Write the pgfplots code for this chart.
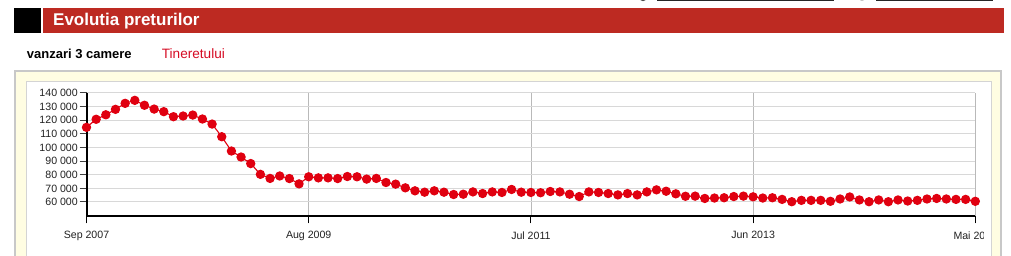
\documentclass[border=0pt]{standalone}
\usepackage{pgfplots}
\pgfplotsset{compat=1.18}
\usepackage{fontspec}
\setmainfont{Liberation Sans}

\definecolor{barred}{RGB}{189,42,34}
\definecolor{linkred}{RGB}{214,12,36}
\definecolor{panelbg}{RGB}{255,253,226}
\definecolor{panelborder}{RGB}{200,200,200}
\definecolor{innerborder}{RGB}{212,212,212}
\definecolor{hgrid}{RGB}{216,216,216}
\definecolor{vgrid}{RGB}{185,185,185}
\definecolor{serie}{RGB}{224,0,16}
\definecolor{ticktext}{RGB}{34,34,34}

% monthly average price, Sep 2007 (0) .. May 2015 (92)
\pgfplotstableread{
idx price
0 114800
1 120700
2 124000
3 128000
4 132400
5 134600
6 131000
7 128200
8 126300
9 122600
10 123100
11 123800
12 120900
13 117200
14 107900
15 97400
16 93000
17 88200
18 80300
19 77300
20 79100
21 77200
22 73300
23 78500
24 77700
25 77700
26 77200
27 78700
28 78500
29 76800
30 77300
31 74300
32 73100
33 70400
34 68200
35 67200
36 68200
37 67200
38 65500
39 65700
40 67400
41 66200
42 67400
43 67000
44 69200
45 67200
46 67000
47 66800
48 67700
49 67400
50 65700
51 64000
52 67400
53 67000
54 66200
55 65200
56 66200
57 65200
58 67400
59 68900
60 67900
61 66000
62 64200
63 64300
64 62600
65 62900
66 63100
67 64000
68 64300
69 63800
70 62900
71 63100
72 61900
73 60200
74 61200
75 61200
76 61200
77 60500
78 62200
79 63700
80 61500
81 60200
82 61500
83 60200
84 61500
85 60700
86 61200
87 62200
88 62600
89 62200
90 61900
91 61900
92 60500
}\pricedata

\begin{document}
\begin{tikzpicture}[x=1pt,y=1pt]
\useasboundingbox (0,0) rectangle (1011,256);
\clip (0,0) rectangle (1011,256);
\fill[white] (0,0) rectangle (1011,256);

% links at the top edge
\draw[black!85, line width=0.8pt] (657,255.4) -- (834,255.4);
\draw[black!85, line width=0.8pt] (876,255.4) -- (993,255.4);
\fill[black!70] (643,258) circle (3.2);
\fill[black!25] (862,257.5) circle (2.5);

% header
\fill[black] (14,223.3) rectangle (41,248.3);
\fill[barred] (42.7,223.3) rectangle (1004,248.3);
\node[anchor=base west, inner sep=0pt, text=white, font=\fontsize{17}{20}\selectfont\bfseries] at (53,230) {Evolutia preturilor};

% sub header
\node[anchor=base west, inner sep=0pt, font=\fontsize{13}{15}\selectfont\bfseries] at (26.7,197.7) {vanzari 3 camere};
\node[anchor=base west, inner sep=0pt, text=linkred, font=\fontsize{13.6}{15}\selectfont] at (161.7,197.7) {Tineretului};

% panel
\filldraw[fill=panelbg, draw=panelborder, line width=2pt] (15,-10) rectangle (1001,185);
\filldraw[fill=white, draw=innerborder, line width=1pt] (26.5,-10) rectangle (991.5,174);

\begin{scope}
\clip (0,0) rectangle (983.5,256);
\begin{axis}[
  at={(86.5pt,39.7pt)}, anchor=south west,
  scale only axis,
  width=888.8pt, height=123.3pt,
  xmin=0, xmax=92,
  ymin=49500, ymax=140000,
  scaled y ticks=false,
  axis lines=left,
  axis line style={-, black, line width=2pt},
  xtick={0,23,46,69},
  xticklabels={Sep 2007, Aug 2009, Jul 2011, Jun 2013},
  extra x ticks={92},
  extra x tick labels={Mai 2015},
  extra x tick style={grid style={hgrid, line width=1pt}},
  ytick={60000,70000,80000,90000,100000,110000,120000,130000,140000},
  yticklabels={60 000,70 000,80 000,90 000,100 000,110 000,120 000,130 000,140 000},
  grid=major,
  x grid style={vgrid, line width=0.8pt},
  y grid style={hgrid, line width=1pt},
  tick align=outside,
  x tick style={black, line width=1pt},
  y tick style={black!75, line width=1pt},
  major tick length=7pt,
  tick label style={font=\fontsize{10.6}{12}\selectfont, text=ticktext, inner sep=0pt},
  xticklabel style={anchor=north, yshift=-8pt},
  yticklabel style={anchor=east, xshift=-1.5pt},
  clip=false,
]
\addplot[serie, line width=1.1pt, mark=*, mark size=4.1pt, mark options={fill=serie, draw=none}]
  table[x=idx, y=price] {\pricedata};
\end{axis}
\end{scope}
\end{tikzpicture}
\end{document}
